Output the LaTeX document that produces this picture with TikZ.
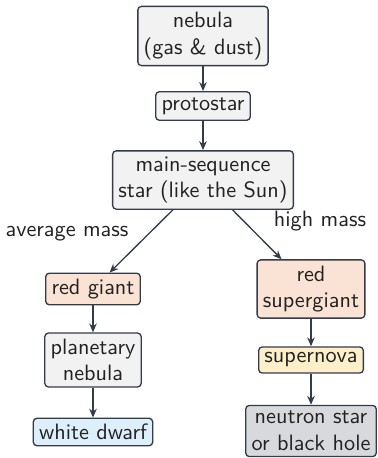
\documentclass[tikz,border=0pt]{standalone}
\usetikzlibrary{arrows.meta}
\definecolor{bordc}{HTML}{353C49}
\definecolor{grayf}{HTML}{F2F2F2}
\definecolor{peachf}{HTML}{FAE3D4}
\definecolor{yellf}{HTML}{FCEFC9}
\definecolor{bluef}{HTML}{DDEFFA}
\definecolor{darkf}{HTML}{D8D9DC}
\definecolor{txt}{HTML}{222222}
\begin{document}
\begin{tikzpicture}[x=0.45pt,y=-0.45pt,
  box/.style={draw=bordc, line width=0.6pt, rounded corners=1.6pt, align=center,
    inner sep=2.6pt, font=\sffamily, text=txt, fill=grayf},
  lbl/.style={font=\sffamily, text=txt},
  arr/.style={draw=bordc, line width=0.6pt, -{Stealth[length=4pt,width=3.4pt]}}]
\useasboundingbox (0,0) rectangle (377,458);
\node[box] (neb) at (203,36) {nebula\\(gas \& dust)};
\node[box] (proto) at (203,106) {protostar};
\node[box] (main) at (203,180) {main-sequence\\star (like the Sun)};
\node[box, fill=peachf] (rg) at (93,289) {red giant};
\node[box, fill=peachf] (rsg) at (311,289) {red\\supergiant};
\node[box] (pn) at (93,360) {planetary\\nebula};
\node[box, fill=yellf] (sn) at (311,360) {supernova};
\node[box, fill=bluef] (wd) at (93,432) {white dwarf};
\node[box, fill=darkf] (ns) at (311,431) {neutron star\\or black hole};
\node[lbl] (avg) at (67,234) {average mass};
\node[lbl] (high) at (320,221) {high mass};
\draw[arr] (neb) -- (proto);
\draw[arr] (proto) -- (main);
\draw[arr] (main) -- (rg);
\draw[arr] (main) -- (rsg);
\draw[arr] (rg) -- (pn);
\draw[arr] (pn) -- (wd);
\draw[arr] (rsg) -- (sn);
\draw[arr] (sn) -- (ns);
\end{tikzpicture}
\end{document}
